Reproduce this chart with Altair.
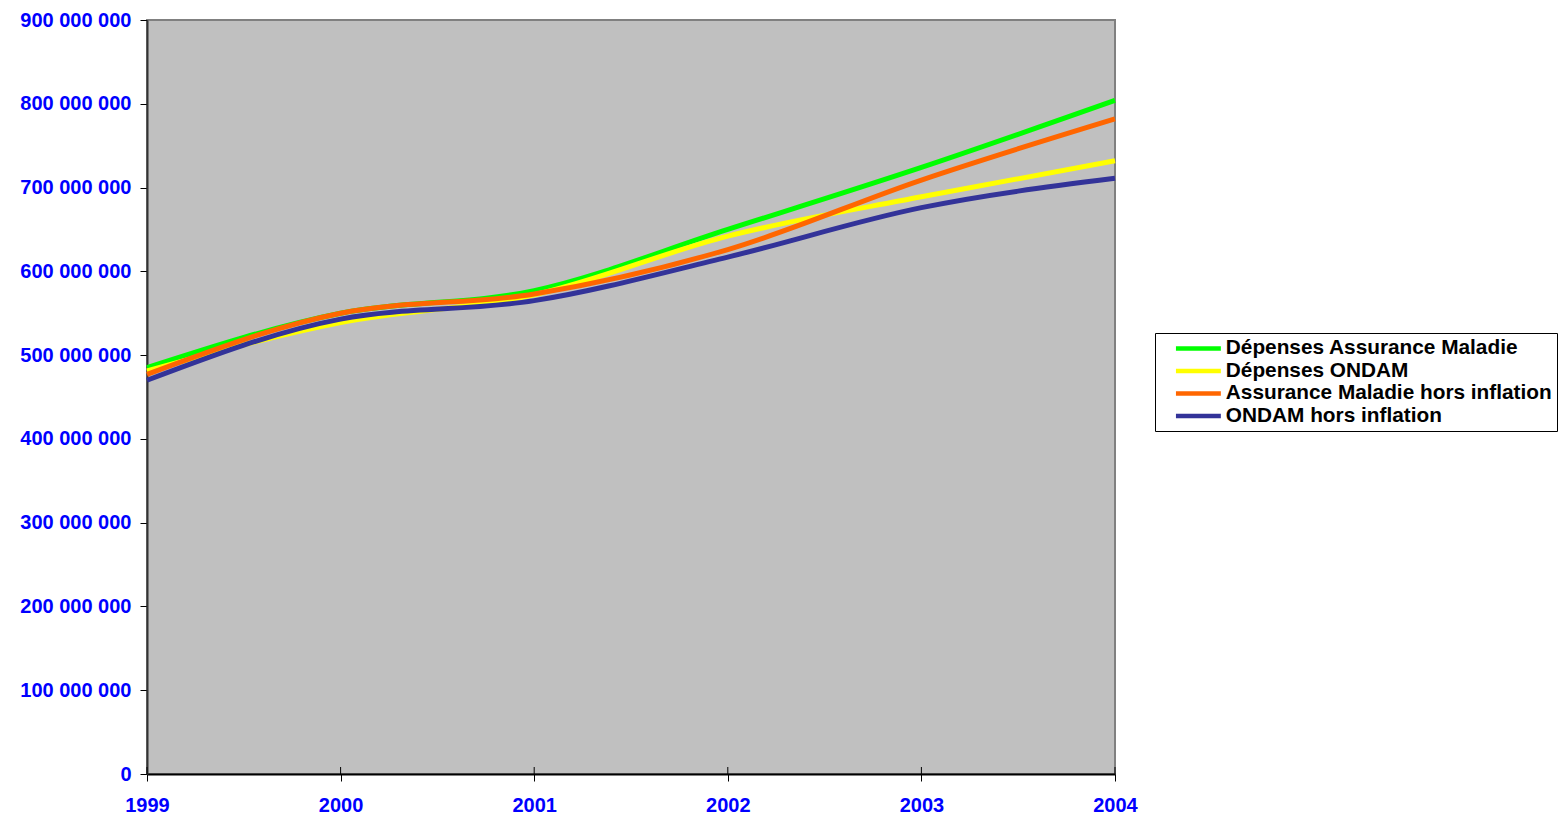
import altair as alt
import pandas as pd

years = [1999, 2000, 2001, 2002, 2003, 2004]
series_names = [
    "Dépenses Assurance Maladie",
    "Dépenses ONDAM",
    "Assurance Maladie hors inflation",
    "ONDAM hors inflation",
]
depenses_am = [485e6, 550e6, 577e6, 650e6, 724e6, 804e6]
depenses_ondam = [481e6, 539e6, 572e6, 642e6, 689e6, 732e6]
am_hors_inflation = [477e6, 550e6, 573e6, 626e6, 709e6, 782e6]
ondam_hors_inflation = [470e6, 543e6, 565e6, 617e6, 676e6, 711e6]
colors = ["#00FF00", "#FFFF00", "#FF6600", "#333399"]
y_ticks = [0, 100e6, 200e6, 300e6, 400e6, 500e6, 600e6, 700e6, 800e6, 900e6]

all_series = [depenses_am, depenses_ondam, am_hors_inflation, ondam_hors_inflation]
rows = []
for name, vals in zip(series_names, all_series):
    for yr, v in zip(years, vals):
        rows.append({"annee": yr, "valeur": v, "serie": name})
df = pd.DataFrame(rows)
df_years = pd.DataFrame({"annee": years})

FONT = "Liberation Sans"

x_enc = alt.X(
    "annee:Q",
    scale=alt.Scale(domain=[1999, 2004], nice=False, zero=False),
    axis=alt.Axis(
        values=years, format="d", title=None, grid=False,
        labelFlush=False, labelOverlap=False,
        labelFont=FONT, labelFontWeight="bold", labelFontSize=20,
        labelColor="#0000FF", labelPadding=14,
        tickSize=7, tickColor="black", tickWidth=1,
        domainColor="black", domainWidth=2,
    ),
)
y_enc = alt.Y(
    "valeur:Q",
    scale=alt.Scale(domain=[0, 900e6], nice=False),
    axis=alt.Axis(
        values=y_ticks, title=None, grid=False,
        labelExpr="replace(format(datum.value, ',.0f'), regexp(',', 'g'), ' ')",
        labelFont=FONT, labelFontWeight="bold", labelFontSize=20,
        labelColor="#0000FF", labelPadding=9,
        tickSize=7, tickColor="black", tickWidth=1,
        domainColor="#333333", domainWidth=2,
    ),
)
color_enc = alt.Color(
    "serie:N",
    scale=alt.Scale(domain=series_names, range=colors),
    legend=alt.Legend(
        title=None, orient="none", legendX=1008, legendY=313,
        fillColor="white", strokeColor="black", padding=5,
        symbolType="M-4,0H4", symbolSize=126, symbolStrokeWidth=4.5,
        symbolOffset=28, labelOffset=17,
        labelFont=FONT, labelFontWeight="bold", labelFontSize=20.8,
        labelColor="black", labelLimit=500, rowPadding=0.5,
    ),
)

layers = []
for name in series_names:
    layers.append(
        alt.Chart(df)
        .transform_filter(alt.datum.serie == name)
        .mark_line(strokeWidth=5, interpolate="monotone")
        .encode(x=x_enc, y=y_enc, color=color_enc)
    )

inner_ticks = (
    alt.Chart(df_years)
    .mark_rule(color="black", strokeWidth=1)
    .encode(x=alt.X("annee:Q"), y=alt.value(747), y2=alt.value(754))
)

chart = (
    alt.layer(*layers, inner_ticks)
    .properties(
        width=968, height=754, autosize="none",
        padding={"left": 139, "top": 12, "right": 443, "bottom": 42},
        background="white",
    )
    .configure_view(fill="#C0C0C0", stroke="#808080", strokeWidth=2)
)

chart.save("out.html", embed_options={"renderer": "svg", "actions": False})
